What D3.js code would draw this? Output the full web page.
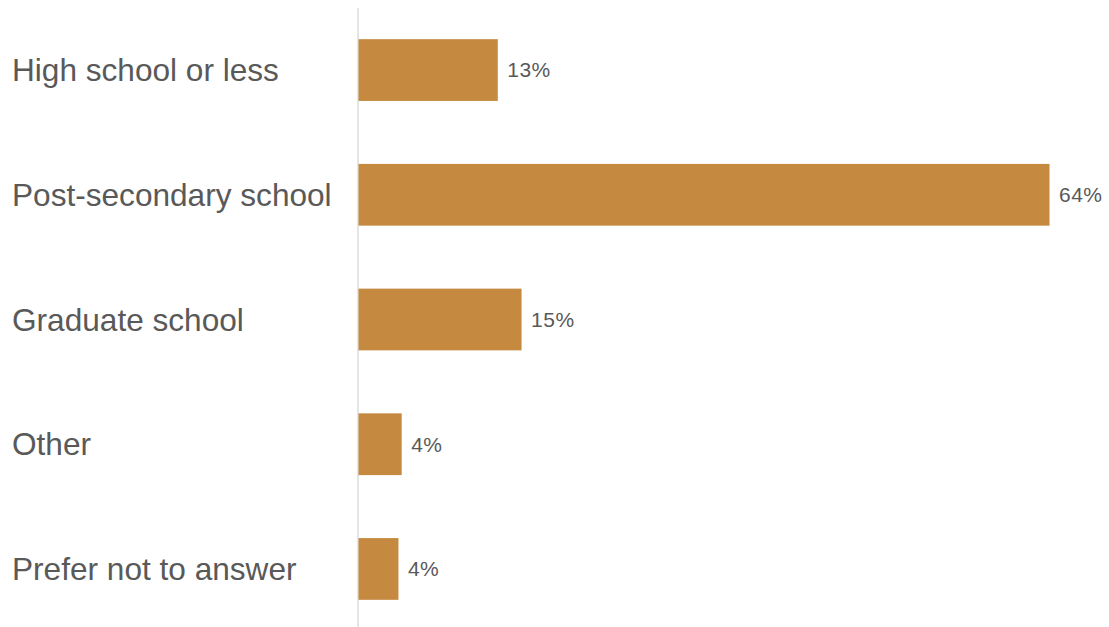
<!DOCTYPE html>
<html>
<head>
<meta charset="utf-8">
<script src="https://d3js.org/d3.v7.min.js"></script>
<style>
  body { margin: 0; background: #fff; }
  svg { display: block; font-family: "Liberation Sans", Arial, sans-serif; }
</style>
</head>
<body>
<div id="chart"></div>
<script>
// data
var categories = ["High school or less", "Post-secondary school", "Graduate school", "Other", "Prefer not to answer"];
var values = [12.9, 64.0, 15.1, 4.0, 3.7];
var valueLabels = ["13%", "64%", "15%", "4%", "4%"];

var width = 1109, height = 627;
var axisX = 358;

var svg = d3.select("#chart").append("svg")
    .attr("width", width)
    .attr("height", height);

var x = d3.scaleLinear()
    .domain([0, 64])
    .range([axisX, 1049]);

var y = d3.scaleBand()
    .domain(categories)
    .range([8, 631])
    .paddingInner(0.505)
    .paddingOuter(0.25);

var rows = categories.map(function(c, i) {
  return { cat: c, v: values[i], label: valueLabels[i] };
});

// vertical baseline
svg.append("line")
    .attr("x1", axisX).attr("x2", axisX)
    .attr("y1", 8).attr("y2", height)
    .attr("stroke", "#dcdcdc")
    .attr("stroke-width", 1.5);

// bars
svg.append("g").selectAll("rect")
    .data(rows)
    .enter()
    .append("rect")
    .attr("x", x(0) + 0.5)
    .attr("y", d => y(d.cat))
    .attr("width", d => x(d.v) - x(0))
    .attr("height", y.bandwidth())
    .attr("fill", "#c58940");

// category labels
svg.append("g").selectAll("text")
    .data(rows)
    .enter()
    .append("text")
    .attr("x", 12)
    .attr("y", d => y(d.cat) + y.bandwidth() / 2)
    .attr("dy", "0.35em")
    .style("font-size", "31.6px")
    .style("fill", "#595959")
    .text(d => d.cat);

// value labels
svg.append("g").selectAll("text")
    .data(rows)
    .enter()
    .append("text")
    .attr("x", d => x(d.v) + 10)
    .attr("y", d => y(d.cat) + y.bandwidth() / 2)
    .attr("dy", "0.35em")
    .style("font-size", "21px")
    .style("letter-spacing", "0.5px")
    .style("fill", "#595959")
    .text(d => d.label);
</script>
</body>
</html>
